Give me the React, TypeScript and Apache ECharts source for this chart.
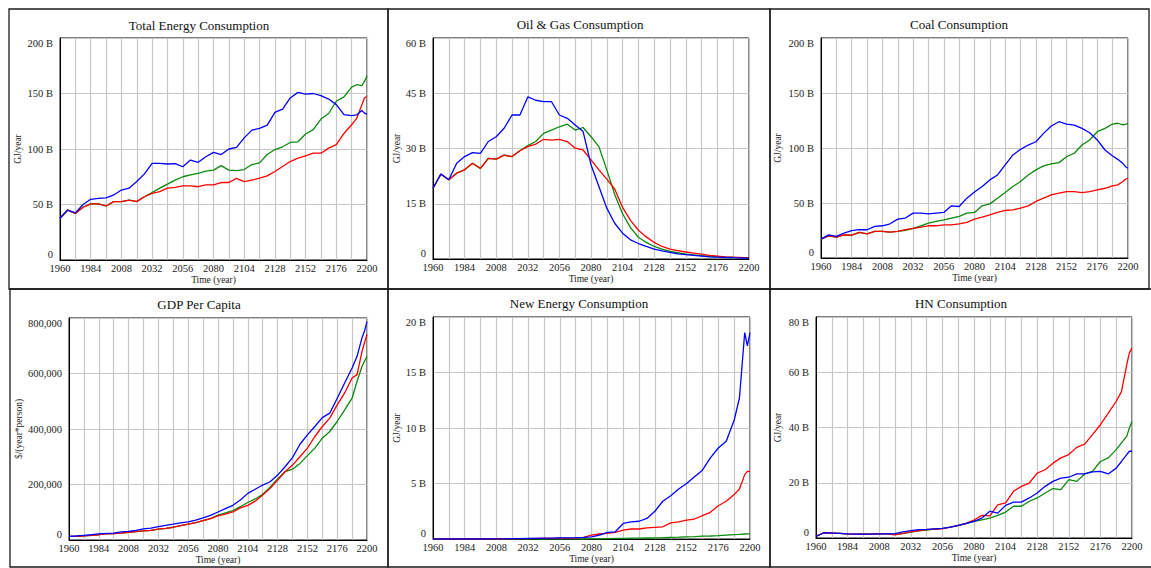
import React, { useEffect, useRef } from 'react';
import * as echarts from 'echarts';

// Sample years (6-year steps, denser at the end)
const YEARS = [
  1960, 1966, 1972, 1978, 1984, 1990, 1996, 2002, 2008, 2014,
  2020, 2026, 2032, 2038, 2044, 2050, 2056, 2062, 2068, 2074,
  2080, 2086, 2092, 2098, 2104, 2110, 2116, 2122, 2128, 2134,
  2140, 2146, 2152, 2158, 2164, 2170, 2176, 2182, 2188, 2192,
  2196, 2198, 2200,
];

// Total Energy Consumption (B GJ/year)
const TOTAL_BLUE = [37.6, 45, 42.5, 50, 54.7, 55.6, 56, 58.6, 63, 64.7, 70.7, 77.6, 87, 87, 86.5, 86.8, 84, 90, 88, 93, 97, 95, 100, 101.5, 110, 117, 118.5, 121.5, 133, 136, 146, 151, 149.5, 150, 148, 145, 140, 131, 130, 130.8, 134.7, 132.3, 131.4];
const TOTAL_GREEN = [37.6, 45, 42, 47.5, 50.5, 50.5, 48.7, 52.6, 52.6, 54, 52.8, 57, 60.8, 64.7, 68.3, 72, 75, 76.7, 78, 80, 81, 85, 81, 80.5, 81.5, 86, 87.5, 95, 99.5, 102, 105.9, 106.5, 113.5, 117.5, 127, 132, 143, 147, 155.8, 157.9, 157, 160.9, 166];
const TOTAL_RED = [37.6, 45, 42, 47.5, 50.5, 50.5, 48.7, 52.6, 52.6, 54, 52.6, 57, 60, 61.6, 64.7, 65.5, 66.8, 66.8, 66, 67.7, 67.7, 69.8, 69.8, 73.5, 70.7, 72, 73.7, 75.8, 79.7, 84.2, 88.7, 91.7, 93.8, 96.2, 96.2, 100.8, 104, 114, 121.8, 127.8, 139.8, 145.9, 147.3];

// Oil & Gas Consumption (B GJ/year)
const OIL_BLUE = [19.2, 23.1, 21.5, 26, 27.8, 28.9, 28.7, 31.9, 33.2, 35.5, 39.1, 39.1, 44, 43.1, 42.7, 42.7, 39.1, 38.2, 36.4, 34.6, 25.6, 19.7, 13.8, 9.7, 7, 5.2, 4.2, 3.4, 2.7, 2.2, 1.8, 1.4, 1.2, 1.0, 0.8, 0.6, 0.5, 0.45, 0.35, 0.3, 0.25, 0.22, 0.2];
const OIL_GREEN = [19.2, 23, 21.5, 23.3, 24.2, 26, 24.6, 27.3, 27.1, 28.2, 27.8, 29.4, 30.8, 31.9, 34.1, 35, 35.9, 36.6, 35, 35.7, 33.2, 30.5, 24.2, 17.5, 12.3, 8.5, 5.9, 4.5, 3.4, 2.7, 2.1, 1.7, 1.35, 1.1, 0.9, 0.7, 0.6, 0.5, 0.45, 0.4, 0.35, 0.32, 0.3];
const OIL_RED = [19.2, 23, 21.5, 23.3, 24.2, 26, 24.6, 27.3, 27.1, 28.2, 27.8, 29.4, 30.5, 31.2, 32.5, 32.3, 32.5, 31.9, 30.1, 29.6, 26.9, 24.2, 21.7, 19, 14, 10.5, 7.8, 6, 4.5, 3.4, 2.7, 2.3, 1.9, 1.6, 1.3, 1.0, 0.8, 0.6, 0.5, 0.45, 0.4, 0.38, 0.35];

// Coal Consumption (B GJ/year)
const COAL_BLUE = [17.2, 21, 19.6, 22.7, 24.8, 25.7, 25.7, 28.7, 29.3, 31.1, 35.3, 36.3, 40.8, 40.8, 40.2, 40.8, 41.4, 47.4, 46.8, 54.4, 60, 65, 71, 75.5, 84.6, 93.7, 98.8, 102.7, 105.7, 113.3, 120, 123.9, 121.8, 120.8, 117.8, 113.9, 107.3, 98.2, 92.7, 89.7, 86, 83, 81.6];
const COAL_GREEN = [17.2, 20.2, 19, 21.1, 20.8, 23.3, 22, 24.2, 24.2, 23.6, 24.2, 25.1, 26.9, 29.3, 31.7, 33.2, 34.7, 36.3, 37.8, 40.8, 41.4, 47.4, 49.2, 54.4, 59.5, 65, 69.5, 75.5, 80.1, 83.7, 85.5, 86.7, 92.1, 95.2, 102.7, 107.3, 114.8, 117.8, 121.8, 122.5, 121, 121.5, 122.4];
const COAL_RED = [17.2, 20.2, 19, 21.1, 20.8, 23.3, 22, 24.2, 24.2, 23.6, 24.2, 25.7, 26.9, 28.1, 29.3, 29.3, 30.2, 30.2, 31.1, 32.3, 35.3, 37.2, 39.3, 41.4, 43.2, 43.8, 45.3, 47.4, 51.4, 54.4, 57.4, 58.9, 60.4, 60.4, 59.5, 60.4, 61.9, 63.4, 65.6, 66.5, 69.5, 71.6, 72.5];

// GDP Per Capita ($/(year*person))
const GDP_BLUE = [13000, 14500, 17000, 19000, 22000, 24000, 25000, 29000, 31000, 35000, 40000, 43000, 48000, 53000, 57000, 62000, 65000, 72000, 80000, 89000, 101000, 113000, 125000, 144000, 168000, 183000, 198000, 210000, 234000, 264000, 297000, 345000, 379000, 409000, 441000, 457000, 511000, 566000, 620000, 662000, 729000, 753000, 787000];
const GDP_GREEN = [13000, 13500, 14500, 17000, 19000, 22000, 23000, 25000, 28000, 30000, 33000, 35000, 39000, 42000, 46000, 52000, 57000, 63000, 70000, 77000, 90000, 98000, 106000, 120000, 135000, 148000, 165000, 190000, 220000, 246000, 255000, 276000, 304000, 331000, 367000, 391000, 427000, 469000, 511000, 572000, 626000, 644000, 662000];
const GDP_RED = [13000, 13500, 14500, 17000, 19000, 22000, 23000, 25000, 28000, 30000, 33000, 35000, 39000, 42000, 46000, 52000, 57000, 63000, 70000, 77000, 87000, 93000, 101000, 116000, 125000, 140000, 162000, 186000, 216000, 246000, 270000, 300000, 331000, 373000, 409000, 439000, 487000, 530000, 584000, 596000, 680000, 711000, 741000];

// New Energy Consumption (B GJ/year)
const NEW_BLUE = [0, 0, 0, 0, 0, 0, 0, 0, 0.01, 0.02, 0.03, 0.04, 0.05, 0.06, 0.07, 0.08, 0.1, 0.1, 0.12, 0.15, 0.2, 0.35, 0.6, 0.65, 1.4, 1.55, 1.6, 1.85, 2.5, 3.4, 3.9, 4.5, 5.0, 5.6, 6.2, 7.3, 8.2, 8.8, 10.7, 12.7, 18.6, 17.4, 18.6];
const NEW_GREEN = [0, 0, 0, 0, 0, 0, 0, 0, 0, 0, 0, 0, 0, 0, 0, 0, 0, 0, 0, 0, 0.01, 0.02, 0.04, 0.05, 0.06, 0.07, 0.08, 0.09, 0.1, 0.12, 0.15, 0.17, 0.2, 0.22, 0.25, 0.27, 0.3, 0.35, 0.4, 0.42, 0.45, 0.46, 0.47];
const NEW_RED = [0, 0, 0, 0, 0, 0, 0, 0, 0, 0.01, 0.02, 0.03, 0.04, 0.05, 0.05, 0.06, 0.07, 0.08, 0.1, 0.15, 0.35, 0.45, 0.5, 0.6, 0.8, 0.9, 0.9, 1.0, 1.05, 1.1, 1.45, 1.55, 1.7, 1.8, 2.1, 2.4, 3.0, 3.4, 4.0, 4.5, 5.8, 6.1, 6.1];

// HN Consumption (B GJ/year)
const HN_BLUE = [0.6, 1.9, 1.8, 1.7, 1.5, 1.4, 1.4, 1.4, 1.5, 1.5, 1.6, 2.2, 2.7, 3.0, 3.1, 3.3, 3.5, 3.9, 4.6, 5.3, 6.0, 7.2, 9.7, 9.0, 11.8, 13.0, 13.0, 14.5, 16.3, 18.7, 20.5, 21.7, 22.0, 23.2, 23.2, 23.9, 24.1, 23.2, 25.3, 27.7, 30.2, 31.4, 31.4];
const HN_GREEN = [0.6, 1.9, 1.8, 1.7, 1.5, 1.4, 1.4, 1.4, 1.5, 1.5, 1.3, 1.6, 2.1, 2.6, 2.9, 3.2, 3.4, 3.9, 4.5, 5.2, 6.0, 6.6, 7.2, 8.2, 9.4, 11.5, 11.5, 13.3, 14.5, 16.3, 17.9, 17.5, 21.1, 20.5, 23.2, 24.1, 27.7, 29.0, 32.0, 34.4, 36.8, 39.8, 42.2];
const HN_RED = [0.6, 1.9, 1.8, 1.7, 1.5, 1.4, 1.4, 1.4, 1.5, 1.5, 1.1, 1.7, 2.2, 2.7, 3.0, 3.2, 3.4, 3.9, 4.6, 5.3, 6.5, 8.2, 8.0, 12.0, 12.7, 16.9, 18.7, 19.9, 23.5, 24.7, 27.1, 29.0, 30.2, 32.8, 34.0, 37.4, 41.0, 45.2, 49.5, 53.0, 62.7, 67.0, 68.8];

const FONT = '"Liberation Serif", "Times New Roman", Times, serif';
const BLUE = '#0000ff';
const GREEN = '#0a8a0a';
const RED = '#ff0000';

type Panel = {
  title: string;
  box: number[];
  grid: number[];
  titleXY: number[];
  yMax: number;
  yInterval: number;
  yName: string;
  yNameGap: number;
  gdp?: boolean;
  blue: number[];
  green: number[];
  red: number[];
};

const PANELS: Panel[] = [
  { title: 'Total Energy Consumption', box: [9, 9, 379, 280], grid: [60, 38, 307, 222], titleXY: [199, 25], yMax: 200, yInterval: 50, yName: 'GJ/year', yNameGap: 37, blue: TOTAL_BLUE, green: TOTAL_GREEN, red: TOTAL_RED },
  { title: 'Oil & Gas Consumption', box: [388, 9, 382, 280], grid: [433, 38, 316, 221], titleXY: [580, 24], yMax: 60, yInterval: 15, yName: 'GJ/year', yNameGap: 31, blue: OIL_BLUE, green: OIL_GREEN, red: OIL_RED },
  { title: 'Coal Consumption', box: [770, 9, 379, 280], grid: [821, 38, 307, 220], titleXY: [959, 24], yMax: 200, yInterval: 50, yName: 'GJ/year', yNameGap: 38, blue: COAL_BLUE, green: COAL_GREEN, red: COAL_RED },
  { title: 'GDP Per Capita', box: [10, 289, 378, 278], grid: [69, 318, 298, 222], titleXY: [199, 304], yMax: 800000, yInterval: 200000, yName: '$/(year*person)', yNameGap: 44, gdp: true, blue: GDP_BLUE, green: GDP_GREEN, red: GDP_RED },
  { title: 'New Energy Consumption', box: [388, 289, 382, 278], grid: [433, 317, 317, 222], titleXY: [579, 303], yMax: 20, yInterval: 5, yName: 'GJ/year', yNameGap: 31, blue: NEW_BLUE, green: NEW_GREEN, red: NEW_RED },
  { title: 'HN Consumption', box: [770, 289, 390, 278], grid: [816, 317, 316, 221], titleXY: [961, 303], yMax: 80, yInterval: 20, yName: 'GJ/year', yNameGap: 33, blue: HN_BLUE, green: HN_GREEN, red: HN_RED },
];

function fmtB(v: number): string {
  return v === 0 ? '0' : `${v} B`;
}
function fmtGdp(v: number): string {
  return String(Math.round(v)).replace(/\B(?=(\d{3})+(?!\d))/g, ',');
}

function buildOption() {
  const grids: any[] = [];
  const xAxes: any[] = [];
  const yAxes: any[] = [];
  const series: any[] = [];
  const graphics: any[] = [];

  PANELS.forEach((p, i) => {
    grids.push({
      left: p.grid[0], top: p.grid[1], width: p.grid[2], height: p.grid[3],
      show: true, borderColor: '#000', borderWidth: 1, containLabel: false,
    });
    xAxes.push({
      type: 'value', gridIndex: i, min: 0, max: 240, interval: 12,
      name: 'Time (year)', nameLocation: 'middle', nameGap: 15,
      nameTextStyle: { fontFamily: FONT, fontSize: 9.5, color: '#222' },
      axisLine: { show: true, lineStyle: { color: '#000', width: 1 } },
      axisTick: { show: false },
      axisLabel: {
        fontFamily: FONT, fontSize: 10.5, color: '#222', margin: 3,
        formatter: (v: number) => (v % 24 === 0 ? String(1960 + v) : ''),
      },
      splitLine: { show: true, lineStyle: { color: '#c6c6c6', width: 1.2 } },
    });
    yAxes.push({
      type: 'value', gridIndex: i, min: 0, max: p.yMax, interval: p.yInterval,
      name: p.yName, nameLocation: 'middle', nameGap: p.yNameGap,
      nameTextStyle: { fontFamily: FONT, fontSize: 9.5, color: '#222' },
      axisLine: { show: true, lineStyle: { color: '#000', width: 1 } },
      axisTick: { show: false },
      axisLabel: {
        fontFamily: FONT, fontSize: 10.5, color: '#222', margin: 7,
        formatter: p.gdp ? fmtGdp : fmtB,
        verticalAlignMinLabel: 'bottom',
        verticalAlignMaxLabel: 'top',
      },
      splitLine: { show: true, lineStyle: { color: '#c6c6c6', width: 1.2 } },
    });
    const mk = (arr: number[], color: string, name: string) => ({
      type: 'line', name, xAxisIndex: i, yAxisIndex: i,
      data: YEARS.map((y, k) => [y - 1960, arr[k]]),
      showSymbol: false, symbol: 'none', smooth: false,
      lineStyle: { color, width: 1.3 }, itemStyle: { color },
      silent: true,
    });
    series.push(mk(p.green, GREEN, 'green'));
    series.push(mk(p.red, RED, 'red'));
    series.push(mk(p.blue, BLUE, 'blue'));

    graphics.push({
      type: 'rect', silent: true, z: 100,
      shape: { x: p.box[0], y: p.box[1], width: p.box[2], height: p.box[3] },
      style: { fill: 'none', stroke: '#1a1a1a', lineWidth: 1.3 },
    });
    graphics.push({
      type: 'text', silent: true, z: 100,
      x: p.titleXY[0], y: p.titleXY[1],
      style: {
        text: p.title, fontFamily: FONT, fontSize: 13, fill: '#111',
        textAlign: 'center', textVerticalAlign: 'middle',
      },
    });
  });

  return {
    animation: false,
    backgroundColor: '#ffffff',
    grid: grids,
    xAxis: xAxes,
    yAxis: yAxes,
    series,
    graphic: graphics,
  };
}

export default function App() {
  const ref = useRef<HTMLDivElement>(null);
  useEffect(() => {
    document.body.style.margin = '0';
    if (!ref.current) return;
    const chart = echarts.init(ref.current, undefined, { renderer: 'svg' });
    chart.setOption(buildOption() as any);
    return () => chart.dispose();
  }, []);
  return <div ref={ref} style={{ width: 1151, height: 568, background: '#fff' }} />;
}
